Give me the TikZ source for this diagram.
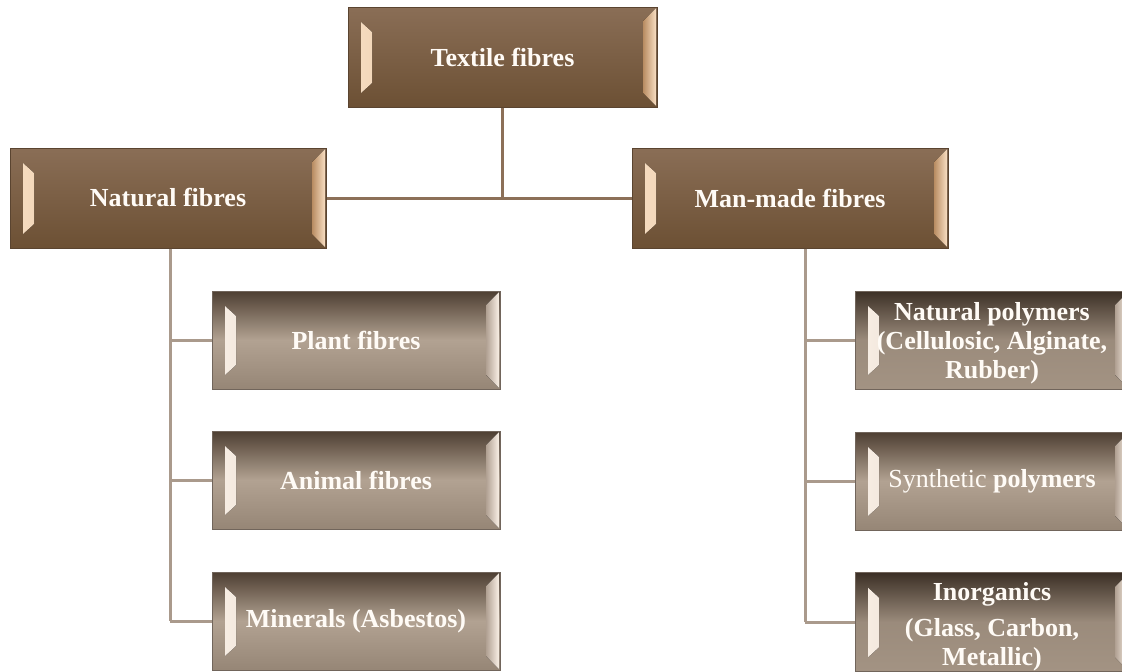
\documentclass[tikz,border=0pt]{standalone}
\usepackage{fontspec}
\setmainfont{Liberation Serif}
\usetikzlibrary{positioning}

\definecolor{rootTop}{RGB}{138,110,86}
\definecolor{rootBot}{RGB}{108,80,52}
\definecolor{rootEdge}{RGB}{90,68,48}
\definecolor{childTop}{RGB}{78,63,50}
\definecolor{childMid}{RGB}{178,162,146}
\definecolor{childBot}{RGB}{150,134,118}
\definecolor{darkTop}{RGB}{60,48,38}
\definecolor{darkBot}{RGB}{163,147,131}
\definecolor{hiLight}{RGB}{248,222,194}
\definecolor{hiDark}{RGB}{184,140,98}
\definecolor{hiCream}{RGB}{250,240,230}
\definecolor{hiGrey}{RGB}{176,160,146}
\definecolor{linkBrown}{RGB}{140,112,88}
\definecolor{linkGrey}{RGB}{170,154,140}
\definecolor{txt}{RGB}{255,251,246}

\tikzset{
  bevel/.style 2 args={path picture={
      % left highlight
      \fill[left color=#1, right color=#2]
        ([xshift=13pt,yshift=14pt]path picture bounding box.south west) --
        ([xshift=13pt,yshift=-15pt]path picture bounding box.north west) --
        ([xshift=24pt,yshift=-25pt]path picture bounding box.north west) --
        ([xshift=24pt,yshift=24pt]path picture bounding box.south west) -- cycle;
      % right highlight
      \fill[left color=#2, right color=#1]
        ([xshift=-1pt,yshift=1pt]path picture bounding box.south east) --
        ([xshift=-1pt,yshift=-1pt]path picture bounding box.north east) --
        ([xshift=-14pt,yshift=-14pt]path picture bounding box.north east) --
        ([xshift=-14pt,yshift=14pt]path picture bounding box.south east) -- cycle;
  }},
  fibrebox/.style={rectangle, draw=rootEdge, line width=1pt, text=txt,
    font=\fontsize{26}{29}\selectfont\bfseries, align=center, inner sep=0pt},
  rootbox/.style={fibrebox, minimum width=309pt, minimum height=100pt,
    top color=rootTop, bottom color=rootBot, bevel={hiLight}{hiDark}},
  mainbox/.style={rootbox, minimum width=316pt},
  childbox/.style={fibrebox, draw=childTop!80, minimum width=288pt, minimum height=98pt,
    top color=childTop, bottom color=childBot, middle color=childMid,
    bevel={hiCream}{hiGrey}},
  rightbox/.style={childbox, minimum width=274pt},
  darkbox/.style={rightbox,
    top color=darkTop, bottom color=darkBot, middle color=darkBot!92!darkTop},
  link/.style={line width=3pt, draw=linkGrey},
  mainlink/.style={line width=3pt, draw=linkBrown}
}

\begin{document}
\begin{tikzpicture}[x=1pt, y=-1pt]
    \clip (0,0) rectangle (1122,672);
    \fill[white] (0,0) rectangle (1122,672);

    % Top level
    \node[rootbox] (textile) at (502.5,57) {Textile fibres};
    \node[mainbox] (natural) at (168,198) {Natural fibres};
    \node[mainbox] (manmade) at (790,198) {Man-made fibres};

    % Natural branch
    \node[childbox] (plant)   at (356,340) {Plant fibres};
    \node[childbox] (animal)  at (356,480) {Animal fibres};
    \node[childbox] (mineral) at (356,621) {Minerals (Asbestos)};

    % Man-made branch
    \node[darkbox]  (natpoly) at (992,340) {\rule{0pt}{24pt}Natural polymers\\(Cellulosic, Alginate,\\Rubber)};
    \node[rightbox] (synpoly) at (992,481) {{\mdseries Synthetic} polymers};
    \node[darkbox]  (inorg)   at (992,622) {\rule{0pt}{28pt}Inorganics\\[7pt](Glass, Carbon,\\Metallic)};

    % Trunk points
    \coordinate (nattrunk) at ([xshift=2pt]natural.south);
    \coordinate (mantrunk) at ([xshift=15pt]manmade.south);

    % Connectors
    \draw[mainlink] (textile.south) -- (textile.south |- natural.east);
    \draw[mainlink] (natural.east) -- (manmade.west);

    \draw[link] (nattrunk) -- (nattrunk |- mineral.west);
    \foreach \n in {plant,animal,mineral}
        \draw[link] (nattrunk |- \n.west) -- (\n.west);

    \draw[link] (mantrunk) -- (mantrunk |- inorg.west);
    \foreach \n in {natpoly,synpoly,inorg}
        \draw[link] (mantrunk |- \n.west) -- (\n.west);
\end{tikzpicture}
\end{document}
